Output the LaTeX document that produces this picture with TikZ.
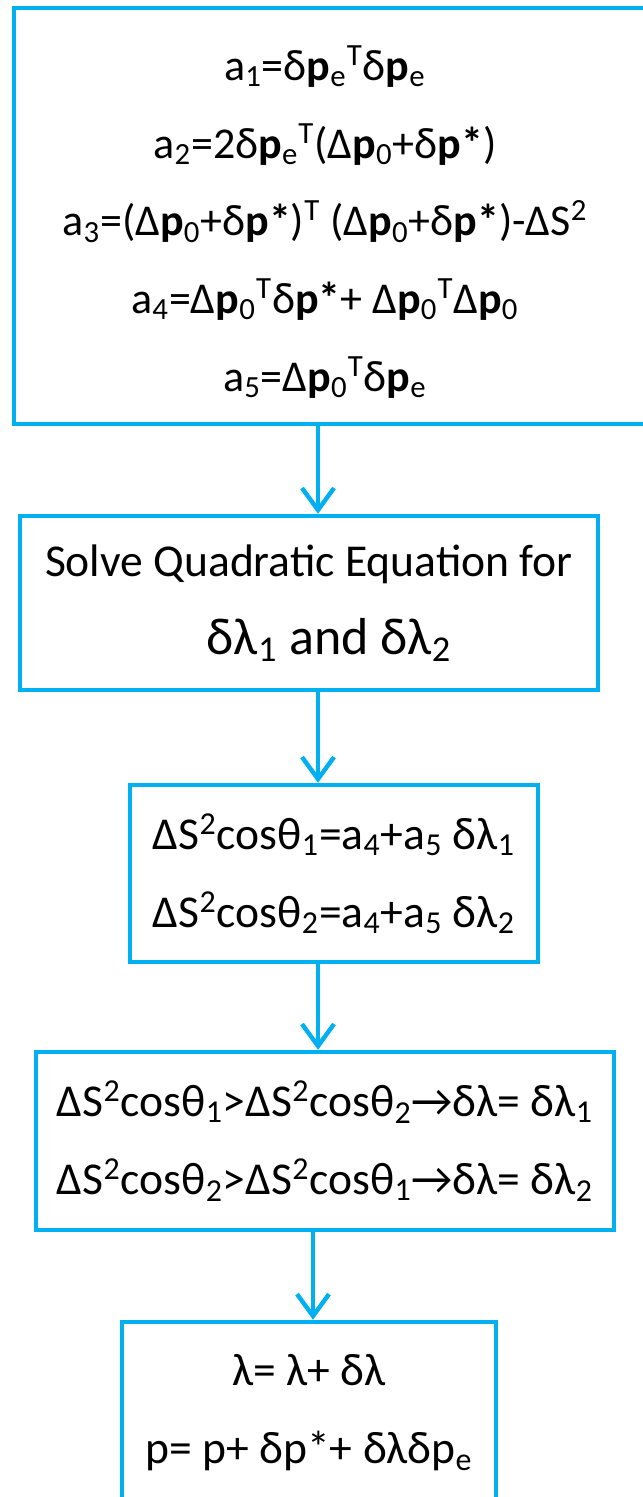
\documentclass[tikz,border=0pt]{standalone}
\usepackage{fontspec}
\setmainfont{Carlito}
\usetikzlibrary{arrows.meta}
\definecolor{flowblue}{HTML}{00B0F0}
\newcommand{\bp}{\textbf{p}}
\newcommand{\lsub}[1]{\textsubscript{#1}}
\newcommand{\lsup}[1]{\textsuperscript{#1}}

\begin{document}
\begin{tikzpicture}[x=0.5pt, y={(0pt,-0.5pt)},
  stepbox/.style={draw=flowblue, line width=2.2pt, align=center, inner sep=0pt,
    font=\fontsize{22.8}{39}\selectfont},
  steptext/.style={align=center, inner sep=0pt, font=\fontsize{22}{38.8}\selectfont},
  flow/.style={draw=flowblue, line width=2.2pt,
    -{Straight Barb[length=11pt, width=16pt, line width=2.2pt]}}]

  \useasboundingbox (0,0) rectangle (642,1497);

  % columns of the arrows
  \coordinate (col) at (318,0);
  \coordinate (colb) at (313,0);

  % boxes
  \node [stepbox, minimum width=320pt, minimum height=208pt] (coef) at (334,216) {};
  \node [steptext] (coeftext) at (325,222)
    {a\lsub{1}=δ\bp\lsub{e}\lsup{T}δ\bp\lsub{e}\\
     a\lsub{2}=2δ\bp\lsub{e}\lsup{T}(Δ\bp\lsub{0}+δ\textbf{p*})\\
     a\lsub{3}=(Δ\bp\lsub{0}+δ\textbf{p*})\lsup{T} (Δ\bp\lsub{0}+δ\textbf{p*})-ΔS\lsup{2}\\
     a\lsub{4}=Δ\bp\lsub{0}\lsup{T}δ\textbf{p*}+ Δ\bp\lsub{0}\lsup{T}Δ\bp\lsub{0}\\
     a\lsub{5}=Δ\bp\lsub{0}\lsup{T}δ\bp\lsub{e}};

  \node [stepbox, minimum width=289pt, minimum height=87pt] (quad) at (309,603)
    {Solve Quadratic Equation for\\
     \fontsize{26}{40}\selectfont\hspace*{20pt}δλ\lsub{1} and δλ\lsub{2}};

  \node [stepbox, minimum width=204pt, minimum height=88.5pt] (cosine) at (334,873.5)
    {ΔS\lsup{2}cosθ\lsub{1}=a\lsub{4}+a\lsub{5} δλ\lsub{1}\\
     ΔS\lsup{2}cosθ\lsub{2}=a\lsub{4}+a\lsub{5} δλ\lsub{2}};

  \node [stepbox, minimum width=289pt, minimum height=89pt] (choose) at (325,1141)
    {ΔS\lsup{2}cosθ\lsub{1}>ΔS\lsup{2}cosθ\lsub{2}→δλ= δλ\lsub{1}\\
     ΔS\lsup{2}cosθ\lsub{2}>ΔS\lsup{2}cosθ\lsub{1}→δλ= δλ\lsub{2}};

  \node [stepbox, minimum width=187pt, minimum height=91pt] (update) at (309,1413)
    {λ= λ+ δλ\\
     p= p+ δp*+ δλδp\lsub{e}};

  % arrows
  \draw [flow] (coef.south -| col) -- (quad.north -| col);
  \draw [flow] (quad.south -| col) -- (cosine.north -| col);
  \draw [flow] (cosine.south -| col) -- (choose.north -| col);
  \draw [flow] (choose.south -| colb) -- (update.north -| colb);

\end{tikzpicture}
\end{document}
